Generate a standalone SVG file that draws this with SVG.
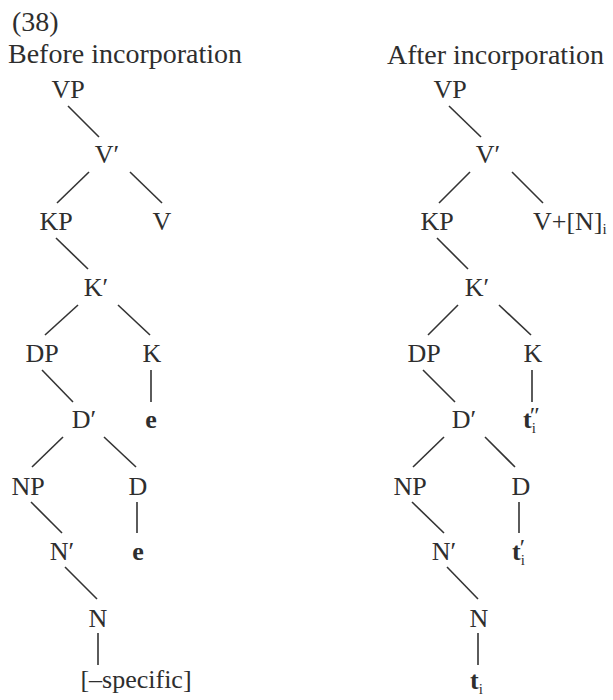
<svg xmlns="http://www.w3.org/2000/svg" width="613" height="700" viewBox="0 0 613 700">
<style>
text{font-family:"Liberation Serif","Times New Roman",serif;fill:#2e2e2e}
.h{font-size:28px}
.n{font-size:26px;text-anchor:middle}
.s{font-size:26px}
.b{font-weight:bold}
.sub{font-size:15px;font-weight:normal}
.pr{font-size:24px;font-weight:normal}
.e{font-size:26px;font-weight:bold;text-anchor:middle}
#edges line{stroke:#333;stroke-width:1.6}
</style>
<rect width="613" height="700" fill="#fff"/>
<text class="h" x="12" y="31">(38)</text>
<text class="h" x="8" y="63">Before incorporation</text>
<text class="h" x="387" y="64">After incorporation</text>
<g id="edges">
<line x1="68" y1="106" x2="99" y2="137"/>
<line x1="89" y1="172" x2="57" y2="203"/>
<line x1="130" y1="172" x2="162" y2="203"/>
<line x1="56" y1="238" x2="88" y2="269"/>
<line x1="78" y1="305" x2="45" y2="335"/>
<line x1="118" y1="305" x2="150" y2="335"/>
<line x1="42" y1="370" x2="73" y2="402"/>
<line x1="151" y1="370" x2="151" y2="402"/>
<line x1="63" y1="437" x2="32" y2="467"/>
<line x1="104" y1="437" x2="136" y2="467"/>
<line x1="31" y1="502" x2="62" y2="533"/>
<line x1="137" y1="502" x2="137" y2="533"/>
<line x1="65" y1="567" x2="97" y2="599"/>
<line x1="98" y1="633" x2="98" y2="665"/>
<line x1="449" y1="106" x2="481" y2="137"/>
<line x1="470" y1="172" x2="439" y2="203"/>
<line x1="512" y1="172" x2="543" y2="203"/>
<line x1="437" y1="238" x2="468" y2="269"/>
<line x1="458" y1="305" x2="428" y2="335"/>
<line x1="499" y1="305" x2="531" y2="335"/>
<line x1="423" y1="370" x2="455" y2="402"/>
<line x1="532" y1="370" x2="532" y2="402"/>
<line x1="444" y1="437" x2="413" y2="467"/>
<line x1="485" y1="437" x2="515" y2="467"/>
<line x1="412" y1="502" x2="444" y2="533"/>
<line x1="519" y1="502" x2="519" y2="533"/>
<line x1="447" y1="567" x2="478" y2="599"/>
<line x1="478" y1="633" x2="478" y2="665"/>
</g>
<g id="L-VP"><text class="n" x="68" y="98">VP</text></g>
<g id="L-Vbar"><text class="n" x="107" y="163">V′</text></g>
<g id="L-KP"><text class="n" x="56" y="230">KP</text></g>
<g id="L-V"><text class="n" x="162" y="230">V</text></g>
<g id="L-Kbar"><text class="n" x="96" y="296">K′</text></g>
<g id="L-DP"><text class="n" x="42" y="362">DP</text></g>
<g id="L-K"><text class="n" x="152" y="362">K</text></g>
<g id="L-Dbar"><text class="n" x="84" y="428">D′</text></g>
<g id="L-Ke"><text class="e" x="151" y="428">e</text></g>
<g id="L-NP"><text class="n" x="28" y="495">NP</text></g>
<g id="L-D"><text class="n" x="138" y="495">D</text></g>
<g id="L-Nbar"><text class="n" x="62" y="560">N′</text></g>
<g id="L-De"><text class="e" x="138" y="560">e</text></g>
<g id="L-N"><text class="n" x="98" y="627">N</text></g>
<g id="L-spec"><text class="n" x="136" y="688">[–specific]</text></g>
<g id="R-VP"><text class="n" x="450" y="98">VP</text></g>
<g id="R-Vbar"><text class="n" x="488" y="163">V′</text></g>
<g id="R-KP"><text class="n" x="437" y="230">KP</text></g>
<g id="R-V"><text class="s" x="533" y="230">V+[N]<tspan class="sub" dy="4">i</tspan></text></g>
<g id="R-Kbar"><text class="n" x="477" y="296">K′</text></g>
<g id="R-DP"><text class="n" x="424" y="362">DP</text></g>
<g id="R-K"><text class="n" x="533" y="362">K</text></g>
<g id="R-Dbar"><text class="n" x="464" y="428">D′</text></g>
<g id="R-t2"><text class="s b" x="523" y="428">t<tspan class="sub" dy="5">i</tspan><tspan class="pr" dx="-6" dy="-10">″</tspan></text></g>
<g id="R-NP"><text class="n" x="410" y="495">NP</text></g>
<g id="R-D"><text class="n" x="521" y="495">D</text></g>
<g id="R-Nbar"><text class="n" x="444" y="560">N′</text></g>
<g id="R-t1"><text class="s b" x="512" y="560">t<tspan class="sub" dy="5">i</tspan><tspan class="pr" dx="-5" dy="-10">′</tspan></text></g>
<g id="R-N"><text class="n" x="479" y="627">N</text></g>
<g id="R-t0"><text class="s b" x="470" y="689">t<tspan class="sub" dy="5">i</tspan></text></g>
</svg>
